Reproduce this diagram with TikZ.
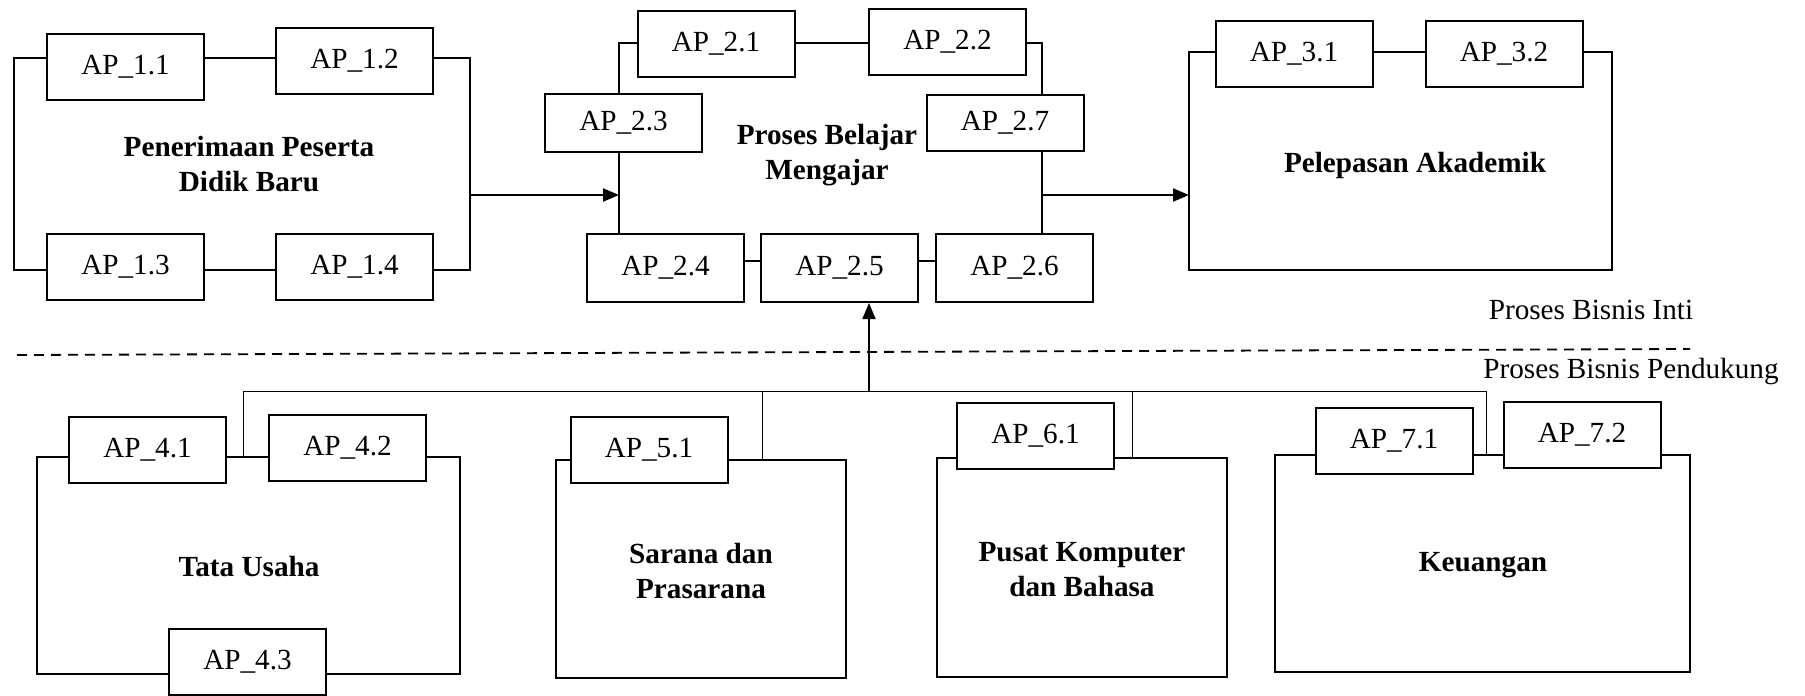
\documentclass[tikz,border=0pt]{standalone}
\usepackage{fontspec}
\setmainfont{Liberation Serif}
\usetikzlibrary{arrows.meta}

\begin{document}
\begin{tikzpicture}[x=0.5pt, y=-0.5pt, font=\fontsize{14.6}{17.5}\selectfont]
    % Define styles
    \tikzstyle{apbox} = [rectangle, draw=black, line width=1pt, minimum width=78.5pt, minimum height=33pt, inner sep=0pt, text centered]
    \tikzstyle{unit} = [align=center, font=\fontsize{14.6}{17.5}\selectfont\bfseries]
    \tikzstyle{line} = [draw=black, line width=1pt]
    \tikzstyle{hub} = [draw=black, line width=0.5pt]
    \tikzstyle{arrow} = [line width=1.1pt, -{Triangle[length=8pt, width=6.5pt]}]
    \useasboundingbox (0,0) rectangle (1805,696);

    % Penerimaan Peserta Didik Baru
    \node [apbox] (ap11) at (125.5,66.5) {AP\_1.1};
    \node [apbox] (ap12) at (354.5,61) {AP\_1.2};
    \node [apbox] (ap13) at (125.5,267) {AP\_1.3};
    \node [apbox] (ap14) at (354.5,267) {AP\_1.4};
    \node [unit] (ppdb) at (249,164) {Penerimaan Peserta\\Didik Baru};
    \coordinate (g1tl) at (14,58);
    \coordinate (g1br) at (470,270);
    \draw [line] (ap11.west |- g1tl) -- (g1tl) |- (ap13.west |- g1br);
    \draw [line] (ap11.east |- g1tl) -- (ap12.west |- g1tl);
    \draw [line] (ap12.east |- g1tl) -| (g1br) -- (ap14.east |- g1br);
    \draw [line] (ap13.east |- g1br) -- (ap14.west |- g1br);

    % Proses Belajar Mengajar
    \node [apbox] (ap21) at (716,44) {AP\_2.1};
    \node [apbox] (ap22) at (947.5,42) {AP\_2.2};
    \node [apbox, minimum height=29pt] (ap23) at (623.5,123) {AP\_2.3};
    \node [apbox, minimum height=28pt] (ap27) at (1005,123) {AP\_2.7};
    \node [apbox, minimum height=34pt] (ap24) at (665.5,268) {AP\_2.4};
    \node [apbox, minimum height=34pt] (ap25) at (839.5,268) {AP\_2.5};
    \node [apbox, minimum height=34pt] (ap26) at (1014.5,268) {AP\_2.6};
    \node [unit] (pbm) at (827,155) {Proses Belajar\\Mengajar};
    \coordinate (g2tl) at (619,43);
    \coordinate (g2br) at (1042,261);
    \draw [line] (ap21.west |- g2tl) -- (g2tl) -- (g2tl |- ap23.north);
    \draw [line] (g2tl |- ap23.south) -- (g2tl |- ap24.north);
    \draw [line] (ap21.east |- g2tl) -- (ap22.west |- g2tl);
    \draw [line] (ap22.east |- g2tl) -| (g2br |- ap27.north);
    \draw [line] (g2br |- ap27.south) -- (g2br |- ap26.north);
    \draw [line] (ap24.east |- g2br) -- (ap25.west |- g2br);
    \draw [line] (ap25.east |- g2br) -- (ap26.west |- g2br);

    % Pelepasan Akademik
    \node [apbox] (ap31) at (1294,54) {AP\_3.1};
    \node [apbox] (ap32) at (1504,54) {AP\_3.2};
    \node [unit] (lulus) at (1415,165) {Pelepasan Akademik};
    \coordinate (g3tl) at (1189,52);
    \coordinate (g3br) at (1612,270);
    \draw [line] (ap31.west |- g3tl) -- (g3tl) |- (g3br) |- (ap32.east |- g3tl);
    \draw [line] (ap31.east |- g3tl) -- (ap32.west |- g3tl);

    % Arrows
    \coordinate (flow) at (0,195);
    \draw [arrow] (g1br |- flow) -- (g2tl |- flow);
    \draw [arrow] (g2br |- flow) -- (g3tl |- flow);

    % Batas inti / pendukung
    \node (inti) at (1591,310) {Proses Bisnis Inti};
    \draw [line width=0.9pt, dash pattern=on 5pt off 3.5pt] (17,355) -- (1690,349);
    \node (pendukung) at (1631,372) {Proses Bisnis Pendukung};

    % Tata Usaha
    \node [apbox] (ap41) at (147.5,449.5) {AP\_4.1};
    \node [apbox] (ap42) at (347.5,447.5) {AP\_4.2};
    \node [apbox] (ap43) at (247.5,662) {AP\_4.3};
    \node [unit] (tu) at (249,567) {Tata Usaha};
    \coordinate (g4tl) at (37,457);
    \coordinate (g4br) at (460,674);
    \draw [line] (ap41.west |- g4tl) -- (g4tl) |- (ap43.west |- g4br);
    \draw [line] (ap43.east |- g4br) -- (g4br) |- (ap42.east |- g4tl);
    \draw [line] (ap41.east |- g4tl) -- (ap42.west |- g4tl);

    % Sarana dan Prasarana
    \node [apbox] (ap51) at (649,450) {AP\_5.1};
    \node [unit] (sarpras) at (701,571) {Sarana dan\\Prasarana};
    \coordinate (g5tl) at (556,460);
    \coordinate (g5br) at (846,678);
    \draw [line] (ap51.west |- g5tl) -- (g5tl) |- (g5br) |- (ap51.east |- g5tl);

    % Pusat Komputer dan Bahasa
    \node [apbox] (ap61) at (1035.5,435.5) {AP\_6.1};
    \node [unit] (puskom) at (1082,570) {Pusat Komputer\\dan Bahasa};
    \coordinate (g6tl) at (937,458);
    \coordinate (g6br) at (1227,677);
    \draw [line] (ap61.west |- g6tl) -- (g6tl) |- (g6br) |- (ap61.east |- g6tl);

    % Keuangan
    \node [apbox] (ap71) at (1394,441) {AP\_7.1};
    \node [apbox] (ap72) at (1582,435) {AP\_7.2};
    \node [unit] (keu) at (1483,565) {Keuangan};
    \coordinate (g7tl) at (1275,455);
    \coordinate (g7br) at (1690,672);
    \draw [line] (ap71.west |- g7tl) -- (g7tl) |- (g7br) |- (ap72.east |- g7tl);
    \draw [line] (ap71.east |- g7tl) -- (ap72.west |- g7tl);

    % Pendukung ke AP_2.5
    \coordinate (hub) at (869,391);
    \coordinate (t4) at (243,457);
    \coordinate (t5) at (762,460);
    \coordinate (t6) at (1132,458);
    \coordinate (t7) at (1486,455);
    \draw [hub] (t4) -- (t4 |- hub) -- (t7 |- hub) -- (t7);
    \draw [hub] (t5 |- hub) -- (t5);
    \draw [hub] (t6 |- hub) -- (t6);
    \draw [arrow, line width=0.8pt] (hub) -- (hub |- ap25.south);
\end{tikzpicture}
\end{document}
